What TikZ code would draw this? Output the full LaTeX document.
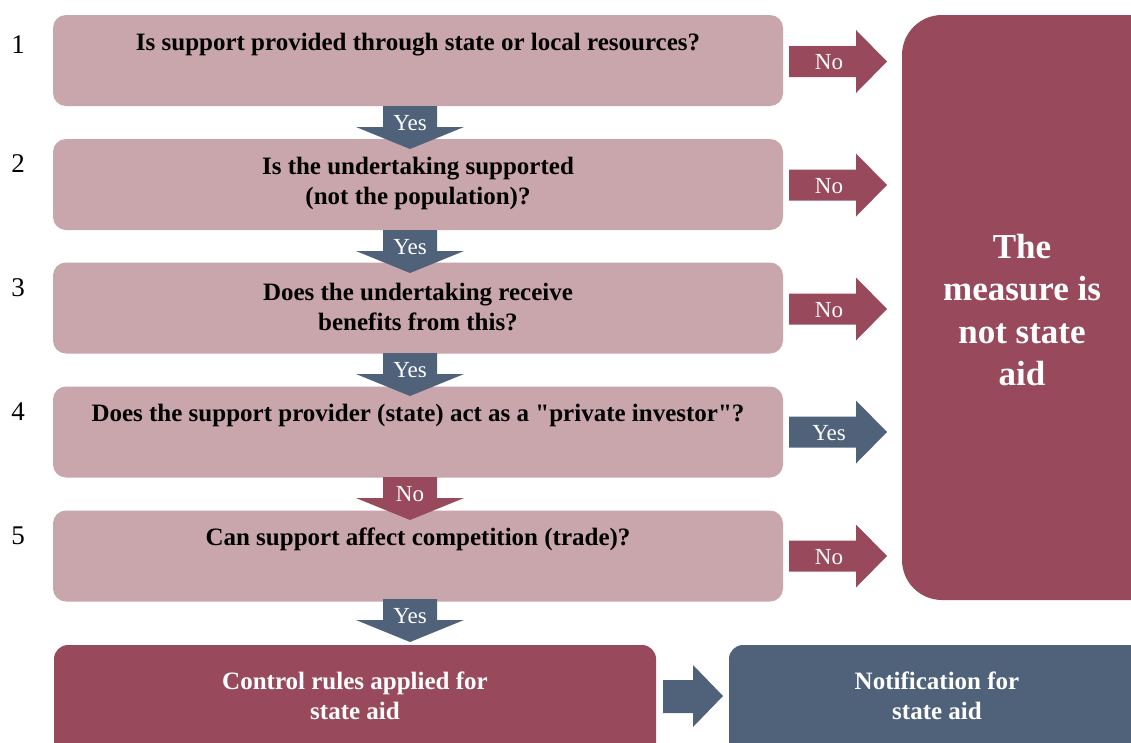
\documentclass[tikz,border=0pt]{standalone}
\usepackage{fontspec}
\setmainfont{Liberation Serif}
\newfontfamily\nomapserif{Liberation Serif}[Ligatures=TeXOff]
\newcommand\sq{{\nomapserif\char34}}
\definecolor{pinkbox}{HTML}{C9A5AC}
\definecolor{redbox}{HTML}{984A5C}
\definecolor{bluebox}{HTML}{4F627A}
\newcommand\dnarrow[5]{% name, x, ytop, color, label
  \fill[#4] (#2-27,#3) -- (#2+27,#3) -- (#2+27,#3+21) -- (#2+54,#3+21) -- (#2,#3+43) -- (#2-54,#3+21) -- (#2-27,#3+21) -- cycle;
  \node[arrowlabel] (#1) at (#2,#3+17) {#5};}
\newcommand\rtarrow[5]{% name, xleft, ycenter, color, label
  \fill[#4] (#2,#3-15.5) -- (#2+67,#3-15.5) -- (#2+67,#3-31.5) -- (#2+98,#3) -- (#2+67,#3+31.5) -- (#2+67,#3+15.5) -- (#2,#3+15.5) -- cycle;
  \node[arrowlabel] (#1) at (#2+40,#3+1) {#5};}
\begin{document}
\begin{tikzpicture}[x=1pt,y=-1pt,
  qbox/.style={fill=pinkbox, rounded corners=13pt, minimum width=730pt, minimum height=91pt, inner sep=0pt},
  qtext/.style={font=\fontsize{25}{30}\selectfont\bfseries, align=center, text=black, inner sep=0pt},
  numtext/.style={font=\fontsize{27}{30}\selectfont, inner sep=0pt},
  arrowlabel/.style={font=\fontsize{23}{24}\selectfont, text=white, inner sep=0pt},
  whitetext/.style={font=\fontsize{25}{30}\selectfont\bfseries, align=center, text=white, inner sep=0pt},
  bigtext/.style={font=\fontsize{35}{42.5}\selectfont\bfseries, align=center, text=white, inner sep=0pt}]
\useasboundingbox (0,0) rectangle (1131,742);
\clip (0,0) rectangle (1131,742);
% question boxes
\node[qbox] (q1) at (418,60.5) {};
\node[qbox] (q2) at (418,184.5) {};
\node[qbox] (q3) at (418,308) {};
\node[qbox] (q4) at (418,432) {};
\node[qbox] (q5) at (418,556) {};
\node[qtext] (t1) at (418,45) {Is support provided through state or local resources?};
\node[qtext] (t2) at (418,183) {Is the undertaking supported\\(not the population)?};
\node[qtext] (t3) at (418,307) {Does the undertaking receive\\benefits from this?};
\node[qtext] (t4) at (418,415) {Does the support provider (state) act as a \sq private investor\sq?};
\node[qtext] (t5) at (418,539) {Can support affect competition (trade)?};
% numbers
\node[numtext] (n1) at (18,45) {1};
\node[numtext] (n2) at (18,164) {2};
\node[numtext] (n3) at (18,288) {3};
\node[numtext] (n4) at (18,412) {4};
\node[numtext] (n5) at (18,536) {5};
% right big box
\fill[redbox, rounded corners=40pt] (902,15) rectangle (1180,600);
\node[bigtext] (notaid) at (1022,310) {The\\measure is\\not state\\aid};
% bottom boxes
\fill[redbox, rounded corners=14pt] (54,645) rectangle (656,780);
\node[whitetext] (ctrl) at (355,696) {Control rules applied for\\state aid};
\fill[bluebox, rounded corners=14pt] (729,645) rectangle (1180,780);
\node[whitetext] (notif) at (937,696) {Notification for\\state aid};
% down arrows
\dnarrow{d1}{410}{106}{bluebox}{Yes}
\dnarrow{d2}{410}{230}{bluebox}{Yes}
\dnarrow{d3}{410}{353}{bluebox}{Yes}
\dnarrow{d4}{410}{477}{redbox}{No}
\dnarrow{d5}{410}{599}{bluebox}{Yes}
% right arrows
\rtarrow{r1}{789}{61.5}{redbox}{No}
\rtarrow{r2}{789}{185}{redbox}{No}
\rtarrow{r3}{789}{309}{redbox}{No}
\rtarrow{r4}{789}{432}{bluebox}{Yes}
\rtarrow{r5}{789}{556}{redbox}{No}
% bottom arrow
\fill[bluebox] (663,680) -- (693,680) -- (693,665) -- (723,696) -- (693,727) -- (693,713) -- (663,713) -- cycle;
\end{tikzpicture}
\end{document}
